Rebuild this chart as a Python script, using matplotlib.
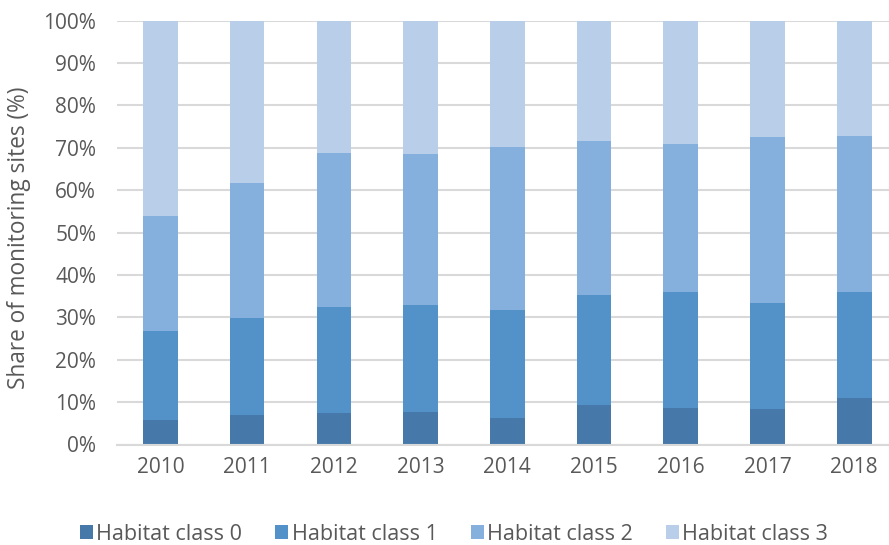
import numpy as np
import matplotlib.pyplot as plt
from matplotlib.ticker import PercentFormatter

plt.rcParams['font.family'] = ['Open Sans', 'DejaVu Sans']

years = ['2010', '2011', '2012', '2013', '2014', '2015', '2016', '2017', '2018']
class0 = [5.8, 7.0, 7.5, 7.6, 6.3, 9.4, 8.7, 8.4, 11.0]
class1 = [21.0, 22.9, 25.0, 25.3, 25.4, 25.9, 27.3, 25.0, 25.0]
class2 = [27.1, 31.8, 36.3, 35.7, 38.5, 36.3, 34.9, 39.2, 36.8]
class3 = [46.1, 38.3, 31.2, 31.4, 29.8, 28.4, 29.1, 27.4, 27.2]

labels = ['Habitat class 0', 'Habitat class 1', 'Habitat class 2', 'Habitat class 3']
colors = ['#4679a9', '#5392c8', '#85afdc', '#b8cee9']
txt = '#595959'

fig = plt.figure(figsize=(8.89, 5.45), dpi=100)
ax = fig.add_axes([117/889, 1-444.5/545, 1-117/889, (444.5-20.7)/545])

x = np.arange(len(years))
bottom = np.zeros(len(years))
for vals, lab, col in zip([class0, class1, class2, class3], labels, colors):
    ax.bar(x, vals, width=0.4, bottom=bottom, color=col, label=lab, zorder=2)
    bottom += np.array(vals)

ax.set_ylim(0, 100)
ax.set_xlim(-0.5, 8.4)
ax.set_yticks(np.arange(0, 101, 10))
ax.yaxis.set_major_formatter(PercentFormatter(decimals=0))
ax.set_xticks(x)
ax.set_xticklabels(years)
ax.grid(axis='y', color='#d9d9d9', linewidth=1.5, zorder=0)
for s in ['top', 'right', 'left']:
    ax.spines[s].set_visible(False)
ax.spines['bottom'].set_color('#d9d9d9')
ax.spines['bottom'].set_linewidth(1.5)
ax.tick_params(length=0, labelsize=15, colors=txt)
ax.tick_params(axis='y', pad=15)
ax.tick_params(axis='x', pad=9)
ax.set_ylabel('Share of monitoring sites (%)', fontsize=16.3, color=txt)
ax.yaxis.set_label_coords(-86/772, 0.487)

fig.legend(loc='center', bbox_to_anchor=(454/889, 1-534/545), ncol=4, frameon=False,
           fontsize=15.5, labelcolor=txt, handlelength=0.6, handleheight=0.6,
           handletextpad=0.15, columnspacing=1.55)

fig.savefig('out.png', dpi=100)
